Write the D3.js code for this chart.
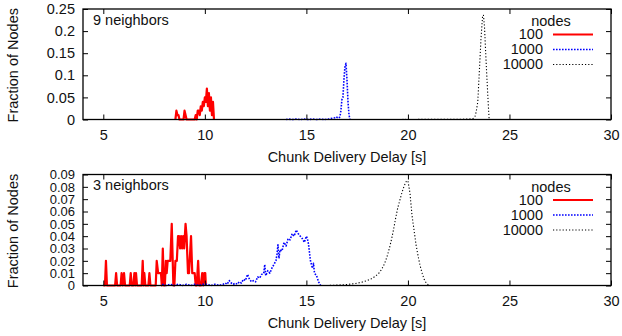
<!DOCTYPE html>
<html>
<head>
<meta charset="utf-8">
<script src="https://cdn.jsdelivr.net/npm/d3@7"></script>
<style>
  body { margin: 0; background: #fff; }
  text { font-family: "Liberation Sans", Arial, Helvetica, sans-serif; fill: #111; }
</style>
</head>
<body>
<svg id="chart"></svg>
<script>
// x axis (delay in seconds) shared by both panels
const xTicks = [5, 10, 15, 20, 25, 30];
const yTicksTop = [0, 0.05, 0.1, 0.15, 0.2, 0.25];
const yTicksBottom = [0, 0.01, 0.02, 0.03, 0.04, 0.05, 0.06, 0.07, 0.08, 0.09];
const seriesNames = ['100', '1000', '10000'];

// 9 neighbors: [delay, fraction]
const top100 = [
  [8.55,0],[8.6,0.02],[8.65,0.01],[8.7,0.01],[8.75,0],[8.95,0],[9.0,0.02],[9.05,0.01],[9.1,0],
  [9.5,0],[9.55,0.01],[9.6,0],[9.65,0.02],[9.7,0.02],[9.75,0.01],[9.8,0.03],[9.85,0.02],
  [9.9,0.04],[9.95,0.03],[10.0,0.05],[10.05,0.04],[10.1,0.07],[10.15,0.03],[10.2,0.06],
  [10.25,0.02],[10.3,0.05],[10.35,0.01],[10.4,0.04],[10.45,0]
];
const top1000 = [
  [14.0,0],[14.1,0.001],[14.3,0],[14.5,0.001],[14.7,0],[14.9,0.001],[15.1,0],[15.3,0.001],
  [15.5,0],[15.7,0.001],[15.9,0],[16.1,0.001],[16.2,0.002],[16.3,0.003],[16.4,0.004],
  [16.45,0.006],[16.5,0.005],[16.55,0.004],[16.6,0.003],[16.65,0.006],[16.7,0.02],
  [16.75,0.045],[16.8,0.05],[16.85,0.09],[16.9,0.12],[16.95,0.127],[17.0,0.09],
  [17.05,0.04],[17.1,0.01],[17.15,0]
];
const top10000 = [
  [19.4,0],[19.8,0.0002],[20.2,0.0001],[20.6,0.0002],[21.0,0.0002],[21.4,0.0003],[21.8,0.0003],
  [22.2,0.0004],[22.6,0.0006],[23.0,0.001],[23.2,0.002],[23.3,0.006],[23.36,0.017],
  [23.44,0.04],[23.52,0.112],[23.6,0.184],[23.68,0.236],[23.72,0.236],[23.77,0.21],
  [23.83,0.15],[23.89,0.094],[23.95,0.04],[24.0,0]
];

// 3 neighbors: [delay, fraction]
const bottom100 = [
  [5.0,0],[5.08,0],[5.13,0.02],[5.18,0],[5.58,0],[5.63,0.01],[5.68,0],[5.85,0],[5.9,0.01],
  [5.95,0],[6.02,0.01],[6.07,0],[6.3,0],[6.35,0.01],[6.4,0],[6.48,0],[6.53,0.01],[6.57,0],
  [6.61,0.01],[6.66,0],[6.89,0],[6.94,0.02],[6.98,0],[7.02,0.01],[7.07,0],[7.22,0],
  [7.27,0.01],[7.32,0],[7.58,0],[7.63,0.02],[7.7,0.01],[7.77,0.01],[7.84,0.01],[7.88,0],
  [7.93,0.03],[7.98,0],[8.03,0],[8.08,0.02],[8.12,0.01],[8.17,0.02],[8.22,0.02],[8.3,0.02],
  [8.37,0.05],[8.45,0],[8.5,0],[8.55,0.02],[8.62,0.02],[8.68,0.04],[8.73,0.04],[8.78,0.03],
  [8.83,0.04],[8.88,0.03],[8.93,0.04],[8.98,0.03],[9.05,0.05],[9.1,0.04],[9.17,0.01],
  [9.22,0.01],[9.32,0.04],[9.38,0.01],[9.43,0.01],[9.5,0.01],[9.55,0],[9.6,0],[9.67,0.02],
  [9.72,0],[9.8,0],[9.87,0.01],[9.92,0],[9.97,0.01],[10.02,0.01],[10.05,0]
];
const bottom1000 = [
  [7.9,0.001],[8.1,0],[8.3,0.001],[8.5,0],[8.7,0.001],[8.9,0],[9.1,0.001],[9.3,0],[9.5,0.001],
  [9.7,0],[9.9,0.001],[10.1,0.001],[10.3,0],[10.5,0.001],[10.7,0],[10.9,0.001],[11.0,0.002],
  [11.1,0.001],[11.2,0.004],[11.3,0.002],[11.4,0.001],[11.5,0.002],[11.6,0.001],[11.7,0.003],
  [11.8,0.002],[11.9,0.005],[12.0,0.004],[12.1,0.009],[12.2,0.005],[12.3,0.003],[12.4,0.004],
  [12.5,0.003],[12.6,0.007],[12.7,0.006],[12.8,0.009],[12.9,0.01],[12.95,0.017],[13.0,0.008],
  [13.1,0.012],[13.2,0.01],[13.3,0.014],[13.4,0.017],[13.5,0.02],[13.55,0.025],[13.6,0.033],
  [13.65,0.022],[13.7,0.029],[13.8,0.028],[13.9,0.035],[14.0,0.032],[14.1,0.038],[14.2,0.037],
  [14.3,0.042],[14.4,0.04],[14.5,0.045],[14.6,0.042],[14.7,0.04],[14.8,0.038],[14.9,0.035],
  [15.0,0.04],[15.05,0.038],[15.1,0.034],[15.2,0.02],[15.3,0.014],[15.35,0.018],[15.4,0.01],
  [15.5,0.008],[15.6,0.003],[15.7,0]
];
const bottom10000 = [
  [16.0,0],[16.2,0.0001],[16.4,0.0002],[16.6,0.0004],[16.8,0.0006],[17.0,0.0008],[17.2,0.0012],
  [17.4,0.0016],[17.6,0.0022],[17.8,0.003],[18.0,0.004],[18.2,0.0055],[18.4,0.0075],
  [18.6,0.0105],[18.7,0.013],[18.8,0.016],[18.9,0.02],[19.0,0.025],[19.1,0.031],[19.2,0.038],
  [19.3,0.046],[19.4,0.055],[19.5,0.063],[19.6,0.069],[19.7,0.075],[19.8,0.08],[19.9,0.084],
  [20.0,0.085],[20.1,0.075],[20.2,0.057],[20.3,0.045],[20.4,0.033],[20.5,0.024],[20.6,0.016],
  [20.7,0.01],[20.8,0.005],[20.9,0.002],[21.0,0.0005],[21.1,0]
];

const styles = [
  {color: '#ff0000', width: 2.2, dash: null},
  {color: '#0000ff', width: 1.6, dash: '1.6,1.4'},
  {color: '#000000', width: 1.1, dash: '1.2,2'}
];

const svg = d3.select('#chart').attr('width', 622).attr('height', 336);

function drawPanel(cfg) {
  const g = svg.append('g');
  const x = d3.scaleLinear().domain([4, 30]).range([83, 611]);
  const y = d3.scaleLinear().domain([0, cfg.yMax]).range([cfg.bottom, cfg.top]);

  // series lines
  const line = d3.line().x(d => x(d[0])).y(d => y(d[1]));
  cfg.series.forEach((s, i) => {
    g.append('path')
      .datum(s)
      .attr('d', line)
      .attr('fill', 'none')
      .attr('stroke', styles[i].color)
      .attr('stroke-width', styles[i].width)
      .attr('stroke-dasharray', styles[i].dash)
      .attr('stroke-linejoin', 'round');
  });

  // axes: ticks pointing inward, mirrored on top and right (gnuplot style)
  const tickLen = 5;
  g.append('g').attr('transform', `translate(0,${cfg.bottom})`)
    .call(d3.axisBottom(x).tickValues(xTicks).tickSizeInner(-tickLen).tickSizeOuter(0).tickPadding(10));
  g.append('g').attr('transform', `translate(0,${cfg.top})`)
    .call(d3.axisTop(x).tickValues(xTicks).tickSizeInner(-tickLen).tickSizeOuter(0).tickFormat(''));
  const yAxis = g.append('g').attr('transform', 'translate(83,0)')
    .call(d3.axisLeft(y).tickValues(cfg.yTicks).tickSizeInner(-tickLen).tickSizeOuter(0)
      .tickPadding(8).tickFormat(d3.format('~g')));
  g.append('g').attr('transform', 'translate(611,0)')
    .call(d3.axisRight(y).tickValues(cfg.yTicks).tickSizeInner(-tickLen).tickSizeOuter(0).tickFormat(''));
  g.selectAll('.domain').remove();
  g.selectAll('.tick line').attr('stroke', '#000');
  g.selectAll('.tick text').style('font-size', '14.5px')
    .style('font-family', '"Liberation Sans", Arial, sans-serif').attr('fill', '#111');
  // dense y ticks on the lower panel need a smaller font so labels don't collide
  yAxis.selectAll('.tick text').style('font-size', cfg.yFont);

  g.append('rect')
    .attr('x', 83).attr('y', cfg.top)
    .attr('width', 528).attr('height', cfg.bottom - cfg.top)
    .attr('fill', 'none').attr('stroke', '#000').attr('stroke-width', 1.3);

  // labels
  g.append('text')
    .attr('transform', `translate(18,${(cfg.top + cfg.bottom) / 2 + 1}) rotate(-90)`)
    .attr('text-anchor', 'middle').style('font-size', '14.5px')
    .text('Fraction of Nodes');
  g.append('text')
    .attr('x', 347).attr('y', cfg.bottom + 42)
    .attr('text-anchor', 'middle').style('font-size', '14.5px')
    .text('Chunk Delivery Delay [s]');
  g.append('text')
    .attr('x', 93).attr('y', cfg.top + 15.5)
    .style('font-size', '14.5px')
    .text(cfg.label);

  // legend
  const lg = g.append('g').attr('transform', `translate(0,${cfg.top})`);
  lg.append('text').attr('x', 551).attr('y', 17).attr('text-anchor', 'middle')
    .style('font-size', '14.5px').text('nodes');
  seriesNames.forEach((name, i) => {
    const yy = 30 + i * 15;
    lg.append('text').attr('x', 543).attr('y', yy).attr('text-anchor', 'end')
      .style('font-size', '14.5px').text(name);
    lg.append('line')
      .attr('x1', 553).attr('x2', 593).attr('y1', yy - 4.5).attr('y2', yy - 4.5)
      .attr('stroke', styles[i].color)
      .attr('stroke-width', styles[i].width)
      .attr('stroke-dasharray', styles[i].dash);
  });
}

drawPanel({top: 9, bottom: 119.5, yMax: 0.25, yTicks: yTicksTop, yFont: '14.5px',
  label: '9 neighbors', series: [top100, top1000, top10000]});
drawPanel({top: 174.5, bottom: 285.5, yMax: 0.09, yTicks: yTicksBottom, yFont: '13px',
  label: '3 neighbors', series: [bottom100, bottom1000, bottom10000]});
</script>
</body>
</html>
